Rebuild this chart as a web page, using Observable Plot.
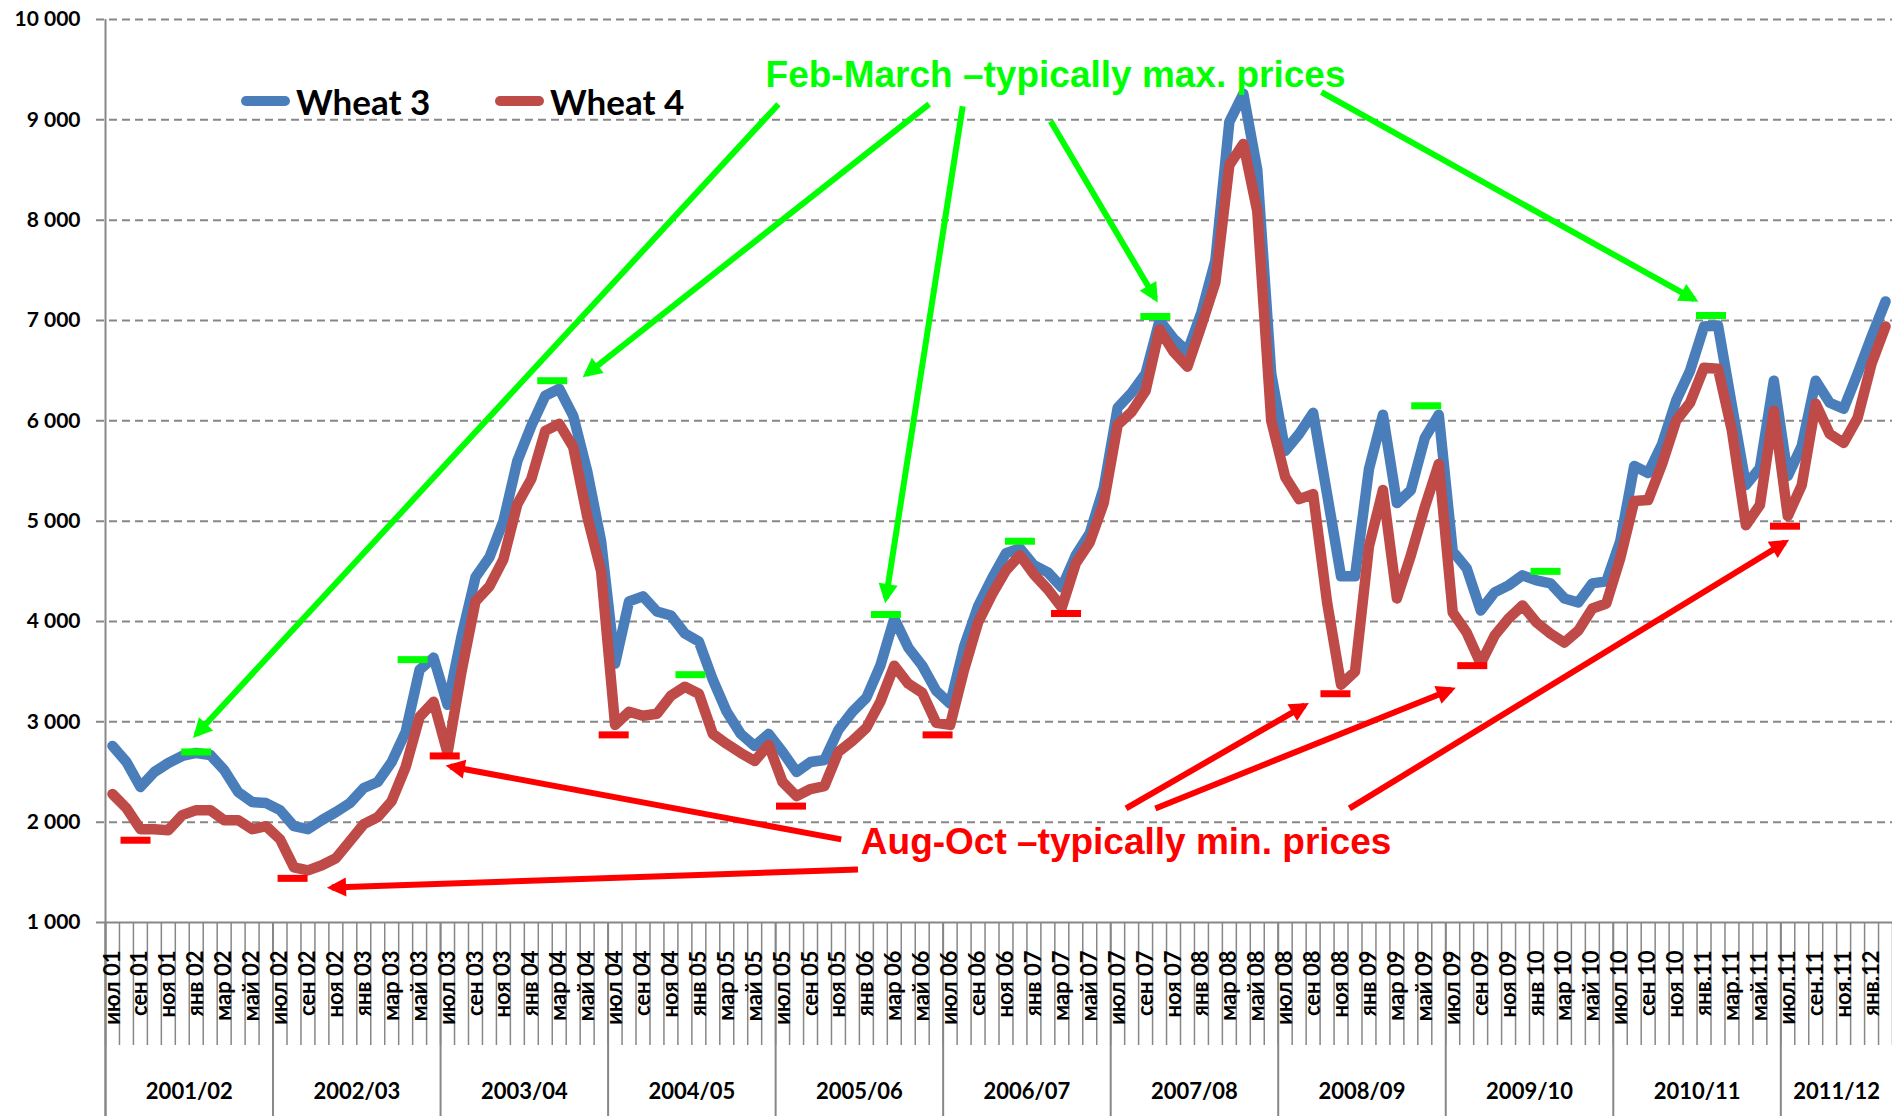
<!DOCTYPE html>
<html>
<head>
<meta charset="utf-8">
<script src="https://cdn.jsdelivr.net/npm/d3@7"></script>
<script src="https://cdn.jsdelivr.net/npm/@observablehq/plot@0.6"></script>
<style>
  html, body { margin: 0; padding: 0; background: #fff; overflow: hidden; }
  #wrap { position: relative; width: 1892px; height: 1116px; }
  .lg { position: absolute; display: flex; align-items: center; height: 40px;
        font-family: Lato, "Open Sans", sans-serif; font-weight: 700; font-size: 35px; color: #000; }
  .sw { display: inline-block; width: 49px; height: 10px; border-radius: 5px; margin-right: 6px; }
</style>
</head>
<body>
<div id="wrap"></div>
<script>
// ---- data (monthly, Jul 2001 .. Feb 2012) ----
const wheat3 = [
  2760,2600,2350,2500,2590,2660,2690,2670,2520,2300,2200,2190,
  2120,1960,1930,2020,2100,2190,2340,2400,2600,2900,3520,3640,
  3170,3850,4440,4640,5000,5600,5950,6250,6320,6050,5500,4800,
  3580,4200,4250,4100,4060,3880,3800,3420,3100,2880,2760,2880,
  2700,2500,2600,2620,2920,3100,3240,3560,4030,3740,3560,3310,
  3180,3750,4150,4430,4680,4730,4560,4490,4340,4660,4880,5330,
  6130,6280,6470,7000,6820,6690,7080,7600,8980,9260,8500,6470,
  5700,5870,6080,5270,4450,4450,5520,6060,5180,5310,5830,6060,
  4700,4530,4110,4290,4360,4460,4410,4380,4230,4190,4380,4400,
  4800,5550,5480,5770,6200,6500,6940,6950,6150,5360,5530,6400,
  5450,5750,6400,6180,6120,6470,6840,7190
];
const wheat4 = [
  2280,2140,1930,1930,1920,2070,2120,2120,2020,2020,1930,1960,
  1830,1550,1520,1570,1640,1810,1980,2050,2210,2550,3050,3200,
  2690,3500,4200,4350,4620,5170,5420,5900,5970,5740,5050,4500,
  2970,3100,3060,3080,3260,3350,3280,2880,2780,2690,2610,2770,
  2400,2260,2330,2360,2700,2810,2940,3200,3560,3380,3290,2990,
  2970,3520,3990,4270,4510,4660,4470,4320,4140,4580,4790,5180,
  5960,6090,6300,6910,6690,6540,6950,7380,8550,8760,8090,6000,
  5440,5220,5270,4190,3370,3500,4750,5310,4230,4660,5140,5570,
  4090,3890,3580,3860,4030,4160,3990,3880,3790,3910,4130,4180,
  4630,5200,5210,5570,6000,6180,6530,6520,5900,4960,5160,6100,
  5050,5360,6170,5870,5780,6030,6570,6940
];

// tick labels (every second month is labelled)
const monthLabels = [
  "июл 01","сен 01","ноя 01","янв 02","мар 02","май 02",
  "июл 02","сен 02","ноя 02","янв 03","мар 03","май 03",
  "июл 03","сен 03","ноя 03","янв 04","мар 04","май 04",
  "июл 04","сен 04","ноя 04","янв 05","мар 05","май 05",
  "июл 05","сен 05","ноя 05","янв 06","мар 06","май 06",
  "июл 06","сен 06","ноя 06","янв 07","мар 07","май 07",
  "июл 07","сен 07","ноя 07","янв 08","мар 08","май 08",
  "июл 08","сен 08","ноя 08","янв 09","мар 09","май 09",
  "июл 09","сен 09","ноя 09","янв 10","мар 10","май 10",
  "июл 10","сен 10","ноя 10","янв.11","мар.11","май.11",
  "июл.11","сен.11","ноя.11","янв.12"
];
const yearLabels = ["2001/02","2002/03","2003/04","2004/05","2005/06","2006/07",
                    "2007/08","2008/09","2009/10","2010/11","2011/12"];
const yearMonths = [12,12,12,12,12,12,12,12,12,12,8];
const yTicks = [1000,2000,3000,4000,5000,6000,7000,8000,9000,10000];
const yTickLabels = ["1 000","2 000","3 000","4 000","5 000","6 000","7 000","8 000","9 000","10 000"];

// annotations (month index, price)
const maxMarks = [
  {i: 6, v: 2700}, {i: 21.5, v: 3620}, {i: 31.5, v: 6400}, {i: 41.4, v: 3470},
  {i: 55.4, v: 4070}, {i: 65, v: 4800}, {i: 74.7, v: 7040}, {i: 94.1, v: 6150},
  {i: 102.65, v: 4500}, {i: 114.5, v: 7050}
];
const minMarks = [
  {i: 1.65, v: 1820}, {i: 12.9, v: 1440}, {i: 23.8, v: 2660}, {i: 35.9, v: 2870},
  {i: 48.6, v: 2160}, {i: 59.1, v: 2870}, {i: 68.3, v: 4080}, {i: 87.6, v: 3280},
  {i: 97.4, v: 3560}, {i: 119.8, v: 4950}
];
const greenArrows = [
  {i1: 47.7, v1: 9156, i2: 6.0, v2: 2874},
  {i1: 58.5, v1: 9156, i2: 33.95, v2: 6464},
  {i1: 60.9, v1: 9136, i2: 55.4, v2: 4230},
  {i1: 67.2, v1: 8986, i2: 74.7, v2: 7221},
  {i1: 86.6, v1: 9275, i2: 113.3, v2: 7211}
];
const redArrows = [
  {i1: 52.2, v1: 1828, i2: 24.2, v2: 2555},
  {i1: 53.4, v1: 1528, i2: 15.7, v2: 1349},
  {i1: 72.6, v1: 2137, i2: 85.4, v2: 3164},
  {i1: 74.7, v1: 2137, i2: 95.9, v2: 3323},
  {i1: 88.6, v1: 2137, i2: 119.8, v2: 4789}
];
const maxNote = [{i: 67.55, v: 9445, text: "Feb-March –typically max. prices"}];
const minNote = [{i: 72.6, v: 1798, text: "Aug-Oct –typically min. prices"}];

// ---- chart ----
const W = 1892, H = 1116, mL = 105, mR = 0, mT = 19, mB = 194;
const frameH = H - mT - mB;
const N = wheat3.length;
const gray = "#878787";
const font = "Lato, 'Noto Sans', 'Open Sans', sans-serif";

const monthBounds = d3.range(N + 1).map(k => k - 0.5);
let acc = 0;
const yearStarts = yearMonths.map(n => { const s = acc; acc += n; return s; });
const yearBounds = yearStarts.map(s => s - 0.5);
const yearCenters = yearStarts.map((s, k) => s + (yearMonths[k] - 1) / 2);

const hbar = { draw(ctx) { ctx.rect(-15, -3.5, 30, 7); } };

const chart = Plot.plot({
  width: W, height: H,
  marginLeft: mL, marginRight: mR, marginTop: mT, marginBottom: mB,
  style: { fontFamily: font, background: "#fff", color: "#000", overflow: "visible" },
  x: { domain: [-0.5, N - 0.5], axis: null },
  y: { domain: [1000, 10000], axis: null },
  marks: [
    // grid
    Plot.ruleY(yTicks.slice(1), { y: d => d, stroke: gray, strokeWidth: 2, strokeDasharray: "8,5", insetLeft: -9 }),
    Plot.ruleY([1000], { y: d => d, stroke: gray, strokeWidth: 2, insetLeft: -9 }),
    // month ticks
    Plot.ruleX(monthBounds, { x: d => d, stroke: gray, strokeWidth: 1.5, insetTop: frameH, insetBottom: -123 }),
    // year separators and left axis
    Plot.ruleX(yearBounds, { x: d => d, stroke: gray, strokeWidth: 2, insetTop: frameH, insetBottom: -mB }),
    Plot.ruleX([-0.5], { x: d => d, stroke: gray, strokeWidth: 2, insetBottom: -mB }),
    // y tick labels
    Plot.text(yTicks, { y: d => d, text: (d, k) => yTickLabels[k], frameAnchor: "left", dx: -25,
      textAnchor: "end", fontSize: 21, fontWeight: 700, fill: "#000" }),
    // month labels
    Plot.text(monthLabels, { x: (d, k) => 2 * k, text: d => d, frameAnchor: "bottom", dy: 28,
      rotate: -90, textAnchor: "end", lineAnchor: "middle", fontSize: 22, fontWeight: 700, fill: "#000" }),
    // year labels
    Plot.text(yearLabels, { x: (d, k) => yearCenters[k], text: d => d, frameAnchor: "bottom", dy: 176,
      fontSize: 22, fontWeight: 700, fill: "#000" }),
    // series
    Plot.line(wheat3, { x: (d, k) => k, y: d => d, stroke: "#4A7EBB", strokeWidth: 10.5,
      strokeLinejoin: "round", strokeLinecap: "round" }),
    Plot.line(wheat4, { x: (d, k) => k, y: d => d, stroke: "#BE4B48", strokeWidth: 10.5,
      strokeLinejoin: "round", strokeLinecap: "round" }),
    // max / min markers
    Plot.dot(maxMarks, { x: "i", y: "v", symbol: hbar, fill: "#00FF00", stroke: "none", r: 10 }),
    Plot.dot(minMarks, { x: "i", y: "v", symbol: hbar, fill: "#FF0000", stroke: "none", r: 10 }),
    // arrows
    Plot.link(greenArrows, { x1: "i1", y1: "v1", x2: "i2", y2: "v2", stroke: "#00FF00", strokeWidth: 6, markerEnd: "arrow" }),
    Plot.link(redArrows, { x1: "i1", y1: "v1", x2: "i2", y2: "v2", stroke: "#FF0000", strokeWidth: 6, markerEnd: "arrow" }),
    // notes
    Plot.text(maxNote, { x: "i", y: "v", text: "text", fill: "#00FF00", fontSize: 37, fontWeight: 700,
      fontFamily: "'Liberation Sans', Arial, sans-serif", lineAnchor: "middle" }),
    Plot.text(minNote, { x: "i", y: "v", text: "text", fill: "#FF0000", fontSize: 37, fontWeight: 700,
      fontFamily: "'Liberation Sans', Arial, sans-serif", lineAnchor: "middle" })
  ]
});

// filled arrow heads
chart.querySelectorAll("marker").forEach(m => {
  const c = m.getAttribute("stroke");
  m.setAttribute("fill", c);
  m.setAttribute("stroke", "none");
  const p = m.querySelector("path");
  if (p) p.setAttribute("d", "M-3.6,-2.4L1.2,0L-3.6,2.4Z");
});

const wrap = document.getElementById("wrap");
wrap.appendChild(chart);

// legend (inside the plot area, as in the original)
const legendItems = [
  { label: "Wheat 3", color: "#4A7EBB", left: 241 },
  { label: "Wheat 4", color: "#BE4B48", left: 495 }
];
legendItems.forEach(it => {
  const d = document.createElement("div");
  d.className = "lg";
  d.style.left = it.left + "px";
  d.style.top = "81px";
  const s = document.createElement("span");
  s.className = "sw";
  s.style.background = it.color;
  const t = document.createElement("span");
  t.textContent = it.label;
  d.appendChild(s); d.appendChild(t);
  wrap.appendChild(d);
});
</script>
</body>
</html>
